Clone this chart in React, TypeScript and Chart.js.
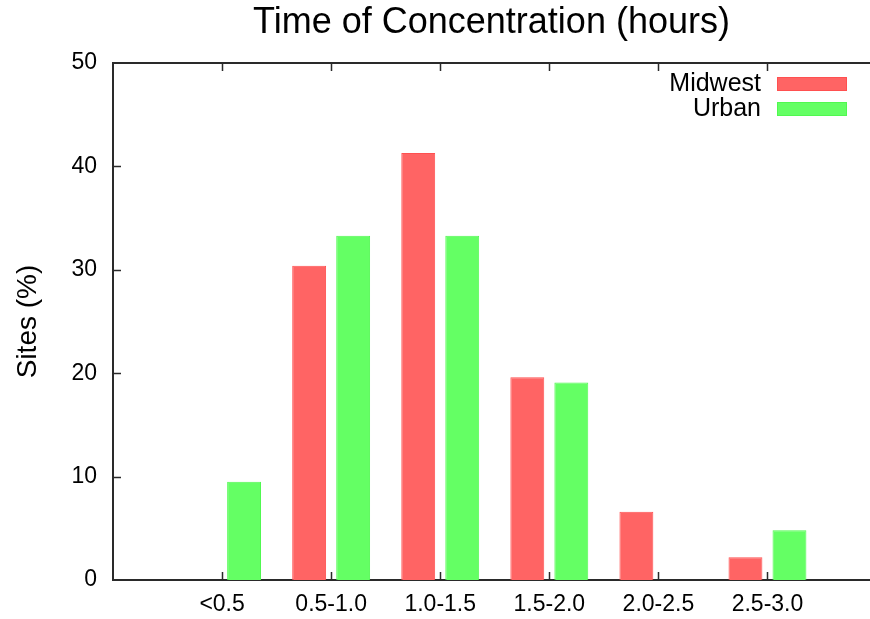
import React, { useEffect, useRef } from 'react';
import { Chart, registerables } from 'chart.js';

Chart.register(...registerables);

const categories = ['<0.5', '0.5-1.0', '1.0-1.5', '1.5-2.0', '2.0-2.5', '2.5-3.0'];
const midwest = [0, 30.4, 41.3, 19.6, 6.6, 2.2];
const urban = [9.5, 33.3, 33.3, 19.1, 0, 4.8];
const yTicks = [0, 10, 20, 30, 40, 50];
const seriesNames = ['Midwest', 'Urban'];
const seriesFill = ['#ff6464', '#64ff64'];
const seriesEdge = ['#ff5050', '#50f850'];
const titleText = 'Time of Concentration (hours)';
const yTitle = 'Sites (%)';

const FONT = '"Liberation Sans", Arial, Helvetica, sans-serif';
const AXIS = '#2a2a2a';

const toPoints = (vals: number[]) =>
  vals.map((v, i) => ({ x: i, y: v === 0 ? null : v }));

const framePlugin = {
  id: 'frame',
  afterDatasetsDraw(chart: any) {
    const { ctx, chartArea } = chart;
    const { left, right, top, bottom } = chartArea;
    const xs = chart.scales.x;
    const ys = chart.scales.y;
    ctx.save();
    ctx.strokeStyle = AXIS;
    ctx.lineWidth = 2;
    ctx.beginPath();
    ctx.moveTo(left - 1, top);
    ctx.lineTo(right, top);
    ctx.stroke();
    ctx.lineWidth = 1.5;
    const tl = 8;
    yTicks.forEach((v) => {
      if (v === yTicks[0] || v === yTicks[yTicks.length - 1]) return;
      const y = Math.round(ys.getPixelForValue(v)) + 0.5;
      ctx.beginPath();
      ctx.moveTo(left, y);
      ctx.lineTo(left + tl, y);
      ctx.stroke();
    });
    categories.forEach((_, i) => {
      const x = Math.round(xs.getPixelForValue(i)) + 0.5;
      ctx.beginPath();
      ctx.moveTo(x, bottom);
      ctx.lineTo(x, bottom - tl);
      ctx.moveTo(x, top);
      ctx.lineTo(x, top + tl);
      ctx.stroke();
    });
    ctx.restore();
  },
  afterDraw(chart: any) {
    const { ctx, chartArea } = chart;
    const right = chartArea.right;
    ctx.save();
    ctx.font = `25px ${FONT}`;
    ctx.textAlign = 'right';
    ctx.textBaseline = 'middle';
    chart.data.datasets.forEach((ds: any, i: number) => {
      const cy = 84 + i * 25;
      ctx.fillStyle = '#000';
      ctx.fillText(ds.label, right - 109, cy);
      ctx.fillStyle = ds.backgroundColor;
      ctx.fillRect(right - 93, cy - 7, 70, 14);
      ctx.strokeStyle = ds.borderColor;
      ctx.lineWidth = 1;
      ctx.strokeRect(right - 92.5, cy - 6.5, 69, 13);
    });
    ctx.restore();
  },
};

export default function App() {
  const ref = useRef<HTMLCanvasElement | null>(null);

  useEffect(() => {
    if (!ref.current) return;
    const chart = new Chart(ref.current, {
      type: 'bar',
      data: {
        datasets: [
          {
            label: seriesNames[0],
            data: toPoints(midwest) as any,
            backgroundColor: seriesFill[0],
            borderColor: seriesEdge[0],
            borderWidth: 1,
          },
          {
            label: seriesNames[1],
            data: toPoints(urban) as any,
            backgroundColor: seriesFill[1],
            borderColor: seriesEdge[1],
            borderWidth: 1,
          },
        ],
      },
      options: {
        responsive: false,
        animation: false,
        maintainAspectRatio: false,
        layout: { padding: 0 },
        datasets: {
          bar: { categoryPercentage: 0.807, barPercentage: 0.77 },
        },
        plugins: {
          legend: { display: false },
          tooltip: { enabled: false },
          title: {
            display: true,
            text: titleText,
            color: '#000',
            fullSize: false,
            font: { size: 36, family: FONT, weight: 'normal' },
            padding: { top: 1, bottom: 18.8 },
          },
        },
        scales: {
          x: {
            type: 'linear',
            min: -1,
            max: 5.94,
            offset: false,
            grid: { display: false, drawTicks: false },
            border: { display: true, color: AXIS, width: 2 },
            afterFit: (s: any) => {
              s.height = 39;
            },
            ticks: {
              stepSize: 1,
              includeBounds: false,
              autoSkip: false,
              maxRotation: 0,
              padding: 11,
              color: '#000',
              font: { size: 23, family: FONT },
              callback: (v: any) =>
                Number.isInteger(v) && v >= 0 && v < categories.length ? categories[v] : '',
            },
          },
          y: {
            min: yTicks[0],
            max: yTicks[yTicks.length - 1],
            grid: { display: false, drawTicks: false },
            border: { display: true, color: AXIS, width: 2 },
            afterFit: (s: any) => {
              s.width = 113;
            },
            ticks: {
              stepSize: 10,
              padding: 16,
              color: '#000',
              font: { size: 23, family: FONT },
            },
            title: {
              display: true,
              text: yTitle,
              color: '#000',
              font: { size: 28, family: FONT },
              padding: { top: 11, bottom: 0 },
            },
          },
        },
      },
      plugins: [framePlugin],
    });
    return () => chart.destroy();
  }, []);

  return (
    <div style={{ position: 'fixed', left: 0, top: 0, width: 870, height: 619, background: '#fff' }}>
      <canvas ref={ref} width={870} height={619} style={{ display: 'block' }} />
    </div>
  );
}
